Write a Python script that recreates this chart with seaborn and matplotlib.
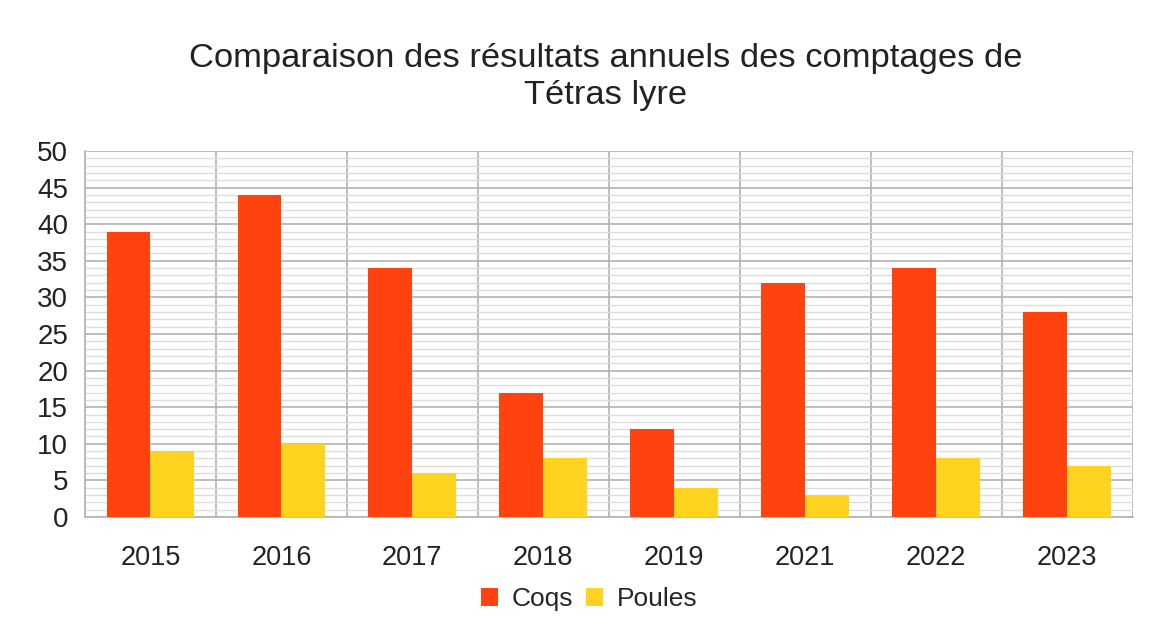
import pandas as pd
import numpy as np
import matplotlib.pyplot as plt
import seaborn as sns
from matplotlib.ticker import MultipleLocator

# ===== DONNÉES =====
annees = ['2015', '2016', '2017', '2018', '2019', '2021', '2022', '2023']
coqs = [39, 44, 34, 17, 12, 32, 34, 28]
poules = [9, 10, 6, 8, 4, 3, 8, 7]
series = ['Coqs', 'Poules']
couleurs = ['#ff420e', '#ffd320']

df = pd.DataFrame({
    'annee': annees * 2,
    'valeur': coqs + poules,
    'serie': ['Coqs'] * len(annees) + ['Poules'] * len(annees),
})

# ===== GRAPHIQUE =====
sns.set_style("white")
plt.rcParams['font.family'] = ['Liberation Sans', 'DejaVu Sans']

fig = plt.figure(figsize=(11.51, 6.21), dpi=100)
ax = fig.add_axes([0.0738, 0.1675, 0.9102, 0.5893])

sns.barplot(data=df, x='annee', y='valeur', hue='serie', order=annees,
            hue_order=series, palette=couleurs, width=0.67, saturation=1,
            edgecolor='none', linewidth=0, ax=ax, legend=True, zorder=3)

ax.set_xlim(-0.5, len(annees) - 0.5)
ax.set_ylim(0, 50)
ax.yaxis.set_major_locator(MultipleLocator(5))
ax.yaxis.set_minor_locator(MultipleLocator(1))
ax.set_xticks(np.arange(-0.5, len(annees), 1), minor=True)

ax.grid(which='major', axis='y', color='#b3b3b3', linewidth=1.2, zorder=0)
ax.grid(which='minor', axis='y', color='#dddddd', linewidth=1.0, zorder=0)
ax.grid(which='minor', axis='x', color='#b3b3b3', linewidth=1.2, zorder=0)
ax.set_axisbelow(True)

for s in ['top', 'right']:
    ax.spines[s].set_visible(False)
for s in ['left', 'bottom']:
    ax.spines[s].set_color('#b3b3b3')
    ax.spines[s].set_linewidth(1.2)

ax.tick_params(axis='y', which='major', length=8, color='#b3b3b3', width=1.2,
               labelsize=20, labelcolor='#222222', pad=4)
ax.tick_params(axis='y', which='minor', length=0)
ax.tick_params(axis='x', which='major', length=0, labelsize=19.5,
               labelcolor='#222222', pad=20)
ax.tick_params(axis='x', which='minor', length=8, color='#b3b3b3', width=1.2)
ax.set_xlabel('')
ax.set_ylabel('')

fig.suptitle('Comparaison des résultats annuels des comptages de\nTétras lyre',
             fontsize=24.8, color='#222222', x=0.526, y=0.93, linespacing=1.24)

handles, labels = ax.get_legend_handles_labels()
ax.legend_.remove()
fig.legend(handles, labels, loc='center', bbox_to_anchor=(0.512, 0.035), ncol=2,
           frameon=False, fontsize=19, handlelength=0.65, handleheight=0.65,
           handletextpad=0.5, columnspacing=0.5)

plt.savefig('out.png', dpi=100)
